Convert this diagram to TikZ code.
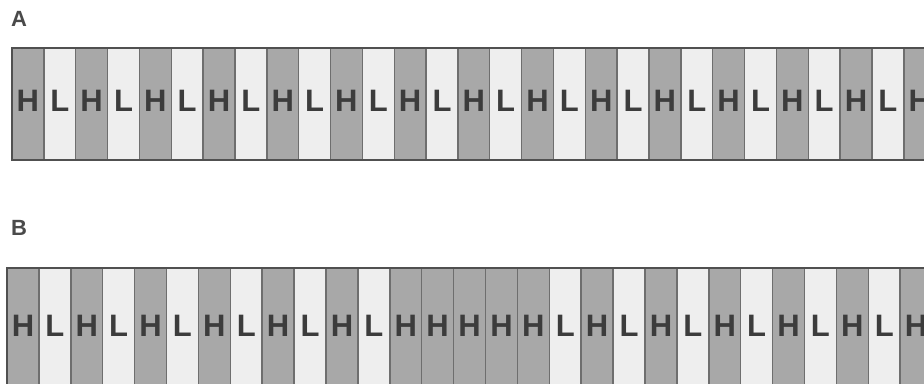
\documentclass[tikz,border=0pt]{standalone}
\usepackage{fontspec}
\setmainfont{Liberation Sans}
\definecolor{hcell}{HTML}{A8A8A8}
\definecolor{lcell}{HTML}{EEEEEE}
\definecolor{divider}{HTML}{6E6E6E}
\definecolor{frame}{HTML}{505050}
\definecolor{ink}{HTML}{3C3C3C}
\definecolor{labink}{HTML}{4A4A4A}
\begin{document}
\begin{tikzpicture}[x=1pt,y=-1pt,
  cellA/.style={draw=divider, line width=1.4pt, inner sep=0pt, outer sep=0pt,
    minimum width=31.85pt, minimum height=112pt, text=ink,
    font=\fontsize{31}{31}\selectfont\bfseries, text height=22pt, text depth=7pt},
  cellB/.style={cellA, minimum height=124pt, text depth=9pt},
  stripframe/.style={draw=frame, line width=2.6pt},
  lab/.style={font=\fontsize{22}{22}\selectfont\bfseries, text=labink, inner sep=0pt}]
\useasboundingbox (0,0) rectangle (924,383);
\clip (0,0) rectangle (924,383);
\fill[white] (0,0) rectangle (924,383);

\node[lab] (labA) at (19,19) {A};
\node[lab] (labB) at (19,228) {B};

% strip A
\foreach \c/\f [count=\i from 0] in {H/hcell,L/lcell,H/hcell,L/lcell,H/hcell,L/lcell,H/hcell,L/lcell,H/hcell,L/lcell,
  H/hcell,L/lcell,H/hcell,L/lcell,H/hcell,L/lcell,H/hcell,L/lcell,H/hcell,L/lcell,
  H/hcell,L/lcell,H/hcell,L/lcell,H/hcell,L/lcell,H/hcell,L/lcell,H/hcell}
  \node[cellA, fill=\f] (a\i) at ({12+31.85*\i+15.925},104) {\c};
\draw[stripframe] (a0.north west) rectangle (a28.south east);

% strip B
\foreach \c/\f [count=\i from 0] in {H/hcell,L/lcell,H/hcell,L/lcell,H/hcell,L/lcell,H/hcell,L/lcell,H/hcell,L/lcell,
  H/hcell,L/lcell,H/hcell,H/hcell,H/hcell,H/hcell,H/hcell,L/lcell,H/hcell,L/lcell,
  H/hcell,L/lcell,H/hcell,L/lcell,H/hcell,L/lcell,H/hcell,L/lcell,H/hcell}
  \node[cellB, fill=\f] (b\i) at ({7+31.9*\i+15.95},330) {\c};
\draw[stripframe] (b0.north west) rectangle (b28.south east);
\end{tikzpicture}
\end{document}
